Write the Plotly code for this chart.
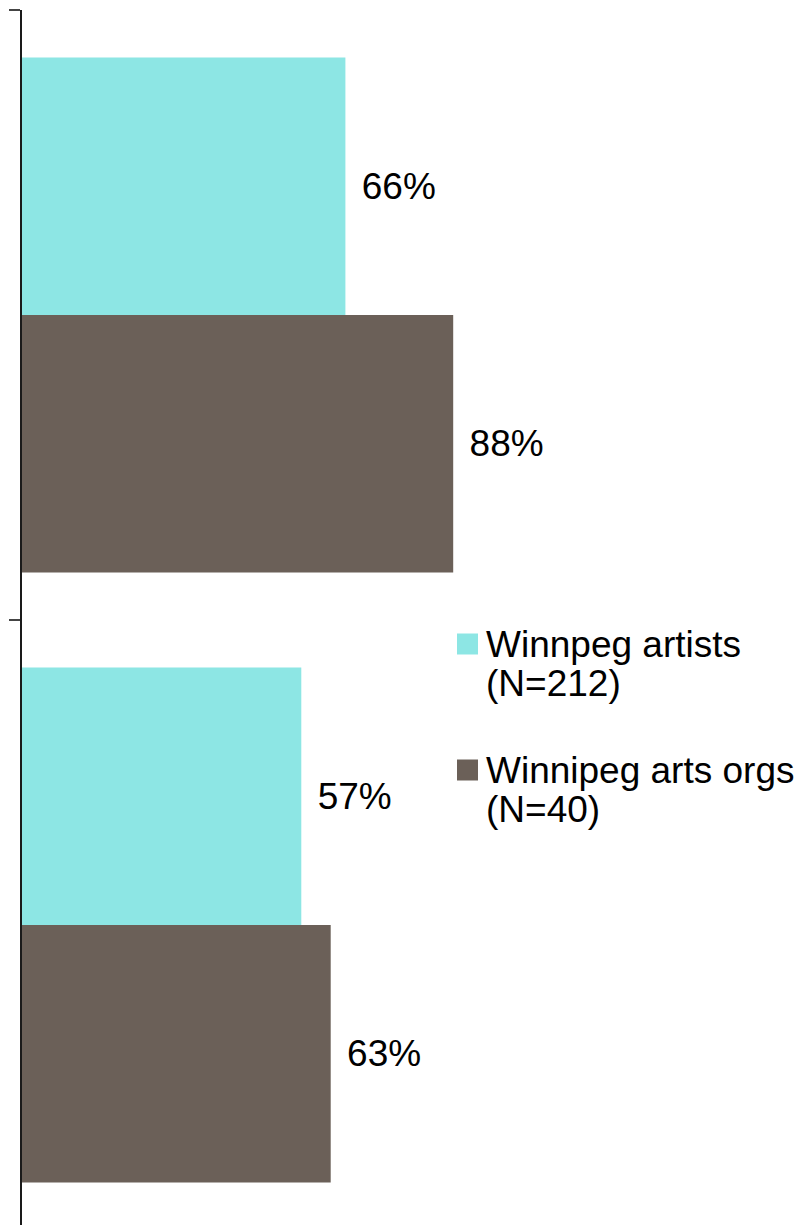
import plotly.graph_objects as go

# ---- data ----
categories = ["Group A", "Group B"]          # category labels are not shown in the chart
series_names = ["Winnpeg artists", "Winnipeg arts orgs"]
series_n = ["(N=212)", "(N=40)"]
artists_values = [66, 57]
orgs_values = [88, 63]
series_values = [artists_values, orgs_values]
colors = ["#8DE6E4", "#6B6058"]

W, H = 802, 1225
BODY = 8  # default page margin of the html body
ML, MR, MT, MB = 22 - BODY, 298, 10 - BODY, 0
plot_w = W - ML - MR
plot_h = H - MT - MB
cat_px = 610.0  # pixel span of one category band

FONT = "Liberation Sans, Arial, sans-serif"

fig = go.Figure()
for name, vals, col in zip(series_names, series_values, colors):
    fig.add_trace(go.Bar(
        y=categories, x=vals, orientation="h", name=name,
        marker=dict(color=col, line=dict(width=0)),
        texttemplate="\u00a0\u200a%{x}%", textposition="outside",
        textfont=dict(family=FONT, size=37, color="#000000"),
        cliponaxis=False, showlegend=False, hoverinfo="skip",
    ))

# manual legend (square swatches + two-line labels), positions in page pixels
def px_to_paper_x(px):
    return (px - BODY - ML) / plot_w

def px_to_paper_y(py):
    return (H - MB - (py - BODY)) / plot_h

shapes = []
annotations = []
for i, (name, n, col) in enumerate(zip(series_names, series_n, colors)):
    cy = 644 + 126 * i
    shapes.append(dict(type="rect", xref="paper", yref="paper",
                       x0=px_to_paper_x(457), x1=px_to_paper_x(478),
                       y0=px_to_paper_y(cy + 10.5), y1=px_to_paper_y(cy - 10.5),
                       fillcolor=col, line=dict(width=0)))
    for j, line in enumerate([name, n]):
        annotations.append(dict(
            xref="paper", yref="paper", x=px_to_paper_x(484), y=px_to_paper_y(cy + 39 * j),
            xanchor="left", yanchor="middle", showarrow=False, text=line,
            font=dict(family=FONT, size=37, color="#000000")))

fig.update_layout(
    width=W, height=H,
    margin=dict(l=ML, r=MR, t=MT, b=MB, pad=0),
    paper_bgcolor="white", plot_bgcolor="white",
    barmode="group", bargap=95 / 610, bargroupgap=0,
    shapes=shapes, annotations=annotations,
    xaxis=dict(range=[0, 100], showgrid=False, zeroline=False, showline=False,
               showticklabels=False, ticks=""),
    yaxis=dict(type="category", categoryorder="array", categoryarray=categories,
               range=[-0.5 + plot_h / cat_px, -0.5],
               showgrid=False, zeroline=False, showline=True, linecolor="#1a1a1a",
               linewidth=1.5, ticks="outside", ticklen=11, tickwidth=1.5,
               tickcolor="#444444", tickson="boundaries", showticklabels=False),
    showlegend=False,
)

fig.write_html("out.html")
